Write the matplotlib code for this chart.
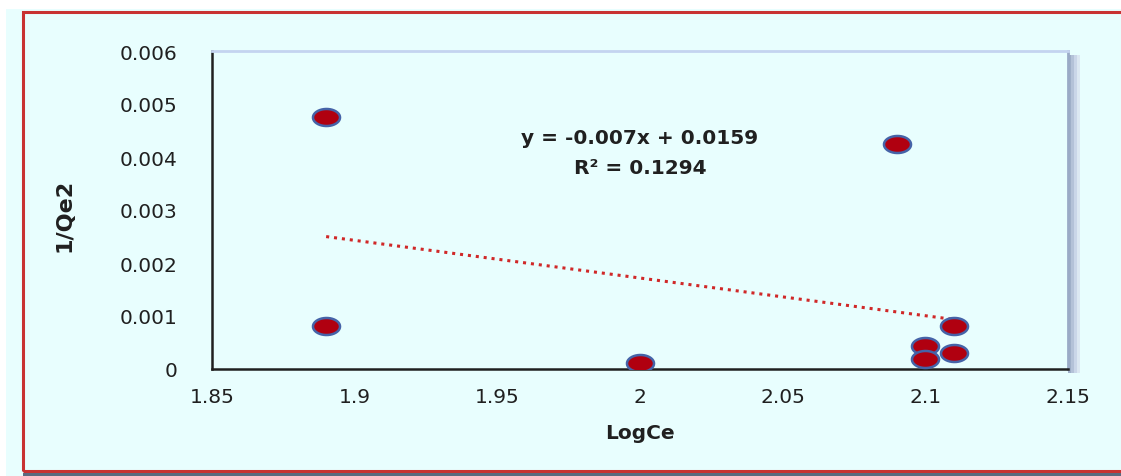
import numpy as np
import matplotlib
matplotlib.use("Agg")
import matplotlib.pyplot as plt
from matplotlib.patches import Rectangle
from matplotlib.path import Path

log_ce = [1.89, 1.89, 2.00, 2.09, 2.10, 2.10, 2.11, 2.11]
inv_qe2 = [0.00475, 0.00082, 0.00012, 0.00425, 0.00043, 0.00019, 0.00081, 0.00030]
x_ticks = [1.85, 1.9, 1.95, 2.0, 2.05, 2.1, 2.15]
x_tick_labels = ["1.85", "1.9", "1.95", "2", "2.05", "2.1", "2.15"]
y_ticks = [0, 0.001, 0.002, 0.003, 0.004, 0.005, 0.006]
y_tick_labels = ["0", "0.001", "0.002", "0.003", "0.004", "0.005", "0.006"]
equation = "y = -0.007x + 0.0159"
r2_text = "R² = 0.1294"

W, H = 1121, 477
fig = plt.figure(figsize=(W / 100, H / 100), dpi=100, facecolor="white")
bg = "#E8FEFE"

# outer chart area
fig.patches.append(Rectangle((6 / W, 0), 1, 1 - 10 / H, transform=fig.transFigure,
                             facecolor=bg, edgecolor="none", zorder=-10))
fig.patches.append(Rectangle((23 / W, 1 - 472 / H), 1.2, (472 - 13) / H, transform=fig.transFigure,
                             facecolor="none", edgecolor="#C83232", lw=2.2, zorder=-5))
fig.patches.append(Rectangle((23 / W, 0), 1, 3 / H, transform=fig.transFigure,
                             facecolor="#5A6A80", edgecolor="none", zorder=-4))

ax_l, ax_r, ax_t, ax_b = 212, 1068, 52, 370
# shadow of plot area
for i, c in enumerate(["#9FAFC8", "#B4C2D8", "#CAD6E8", "#DCE8F2"]):
    fig.patches.append(Rectangle(((ax_r + 3 * i) / W, 1 - (ax_b + 4) / H), 3 / W, (ax_b - ax_t) / H,
                                 transform=fig.transFigure, facecolor=c, edgecolor="none",
                                 zorder=-3))
ax = fig.add_axes([ax_l / W, 1 - ax_b / H, (ax_r - ax_l) / W, (ax_b - ax_t) / H])
ax.set_facecolor(bg)

# ellipse marker
t = np.linspace(0, 2 * np.pi, 40)
ell = Path(np.column_stack([np.cos(t), 0.63 * np.sin(t)]), closed=True)
ax.scatter(log_ce, inv_qe2, marker=ell, s=380, facecolor="#B00010",
           edgecolor="#4563A8", linewidths=1.8, zorder=3)

# linear trendline
coef = np.polyfit(log_ce, inv_qe2, 1)
xs = np.array([min(log_ce), max(log_ce)])
ax.plot(xs, np.polyval(coef, xs), color="#D02828", lw=2.2, ls=(0, (1, 1.6)), zorder=2)

ax.text(2.0, 0.00437, equation, ha="center", va="center", fontsize=14.5,
        fontweight="bold", color="#202020")
ax.text(2.0, 0.0038, r2_text, ha="center", va="center", fontsize=14.5,
        fontweight="bold", color="#202020")

ax.set_xlim(1.85, 2.15)
ax.set_ylim(0, 0.006)
ax.set_xticks(x_ticks)
ax.set_xticklabels(x_tick_labels)
ax.set_yticks(y_ticks)
ax.set_yticklabels(y_tick_labels)
ax.tick_params(axis="both", length=0, labelsize=14.5, colors="#202020")
ax.tick_params(axis="y", pad=25)
ax.tick_params(axis="x", pad=13)

for side in ["left", "bottom"]:
    ax.spines[side].set_color("#202020")
    ax.spines[side].set_linewidth(1.8)
ax.spines["top"].set_color("#C4D4F0")
ax.spines["top"].set_linewidth(2)
ax.spines["right"].set_color("#9AAAC6")
ax.spines["right"].set_linewidth(2)

ax.set_xlabel("LogCe", fontsize=14.5, fontweight="bold", color="#202020", labelpad=12)
ax.set_ylabel("1/Qe2", fontsize=16, fontweight="bold", color="#202020")
ax.yaxis.set_label_coords((75 - ax_l) / (ax_r - ax_l), (ax_b - 215) / (ax_b - ax_t))

fig.savefig("out.png", dpi=100, facecolor="white")
